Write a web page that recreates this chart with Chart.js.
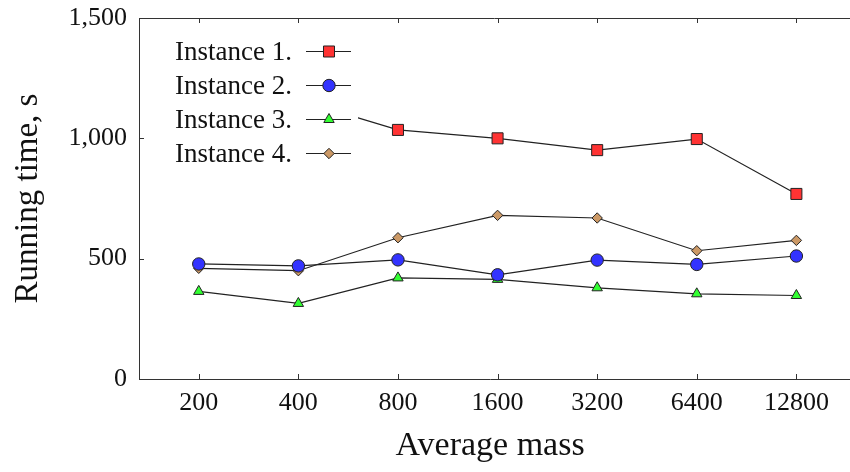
<!DOCTYPE html>
<html>
<head>
<meta charset="utf-8">
<script src="https://cdn.jsdelivr.net/npm/chart.js@4.4.1/dist/chart.umd.min.js"></script>
<style>
    html, body { margin: 0; padding: 0; background: #fff; overflow: hidden; }
    #wrap { width: 850px; height: 472px; position: relative; }
</style>
</head>
<body>
<div id="wrap"><canvas id="chart"></canvas></div>
<script>
// values
const masses = ['200', '400', '800', '1600', '3200', '6400', '12800'];
const instance1 = [1180, 1160, 1035, 1000, 951, 997, 769];
const instance2 = [478, 470, 495, 433, 494, 476, 511];
const instance3 = [364, 314, 420, 414, 379, 354, 347];
const instance4 = [460, 450, 587, 680, 669, 533, 576];
const yTicks = [0, 500, 1000, 1500];

const serif = "'Liberation Serif', 'DejaVu Serif', serif";
const ink = '#222';

const toPoints = (arr) => arr.map((v, i) => ({ x: i, y: v }));

const makeSet = (label, values, style, fill, radius) => ({
    label: label,
    data: toPoints(values),
    borderColor: ink,
    borderWidth: 1.2,
    pointStyle: style,
    pointRadius: radius,
    pointHoverRadius: radius,
    pointBackgroundColor: fill,
    pointBorderColor: ink,
    pointBorderWidth: 1,
    tension: 0
});

// frame on top + inward tick marks, like the pgfplots axis
const framePlugin = {
    id: 'frame',
    beforeDatasetsDraw(chart) {
        const { ctx, chartArea: a, scales } = chart;
        ctx.save();
        ctx.strokeStyle = '#333';
        ctx.lineWidth = 1;
        ctx.beginPath();
        ctx.moveTo(a.left, a.top + 0.5);
        ctx.lineTo(chart.width, a.top + 0.5);
        ctx.moveTo(a.right, a.bottom + 0.5);
        ctx.lineTo(chart.width, a.bottom + 0.5);
        scales.x.ticks.forEach(t => {
            const px = Math.round(scales.x.getPixelForValue(t.value)) + 0.5;
            ctx.moveTo(px, a.bottom);
            ctx.lineTo(px, a.bottom - 5);
            ctx.moveTo(px, a.top);
            ctx.lineTo(px, a.top + 5);
        });
        scales.y.ticks.forEach(t => {
            const py = Math.round(scales.y.getPixelForValue(t.value)) + 0.5;
            ctx.moveTo(a.left, py);
            ctx.lineTo(a.left + 5, py);
        });
        ctx.stroke();
        ctx.restore();
    }
};

// legend drawn over the lines with a white box, text first then sample
const legendPlugin = {
    id: 'boxLegend',
    afterDatasetsDraw(chart) {
        const { ctx } = chart;
        ctx.save();
        ctx.fillStyle = '#fff';
        ctx.fillRect(160, 29, 198, 144);
        ctx.font = '27px ' + serif;
        ctx.textBaseline = 'alphabetic';
        ctx.textAlign = 'left';
        chart.data.datasets.forEach((ds, i) => {
            const cy = 51.5 + i * 34;
            ctx.fillStyle = '#111';
            ctx.fillText(ds.label, 175, cy + 8.5);
            ctx.strokeStyle = ink;
            ctx.lineWidth = 1.2;
            ctx.beginPath();
            ctx.moveTo(306, cy);
            ctx.lineTo(351, cy);
            ctx.stroke();
            ctx.fillStyle = ds.pointBackgroundColor;
            ctx.lineWidth = 1;
            Chart.helpers.drawPoint(ctx, {
                pointStyle: ds.pointStyle,
                radius: ds.pointRadius,
                rotation: 0,
                borderWidth: 1
            }, 329, cy);
        });
        ctx.restore();
    }
};

const ctx = document.getElementById('chart').getContext('2d');
window.massChart = new Chart(ctx, {
    type: 'line',
    data: {
        datasets: [
            makeSet('Instance 1.', instance1, 'rect', '#ff3333', 7.8),
            makeSet('Instance 2.', instance2, 'circle', '#3333ff', 6.2),
            makeSet('Instance 3.', instance3, 'triangle', '#33ff33', 6),
            makeSet('Instance 4.', instance4, 'rectRot', '#cc9966', 5.2)
        ]
    },
    options: {
        responsive: true,
        maintainAspectRatio: false,
        animation: false,
        layout: { padding: { top: 18, left: 0, right: 0, bottom: 0 } },
        plugins: {
            legend: { display: false },
            tooltip: { enabled: false }
        },
        scales: {
            x: {
                type: 'linear',
                min: -0.6,
                max: 6.45,
                afterBuildTicks: (scale) => {
                    scale.ticks = masses.map((m, i) => ({ value: i }));
                },
                afterFit: (scale) => {
                    scale.height = 93;
                    scale.paddingLeft = 0;
                    scale.paddingRight = 0;
                },
                grid: { display: false, drawTicks: false },
                border: { display: true, color: '#333', width: 1 },
                ticks: {
                    autoSkip: false,
                    maxRotation: 0,
                    padding: 9,
                    color: '#111',
                    font: { family: serif, size: 26 },
                    callback: (v) => masses[v]
                },
                title: {
                    display: true,
                    text: 'Average mass',
                    color: '#111',
                    font: { family: serif, size: 34 },
                    padding: { top: 0, bottom: 6 }
                }
            },
            y: {
                min: 0,
                max: 1500,
                afterBuildTicks: (scale) => {
                    scale.ticks = yTicks.map(v => ({ value: v }));
                },
                afterFit: (scale) => {
                    scale.width = 139;
                    scale.paddingTop = 0;
                    scale.paddingBottom = 0;
                },
                grid: { display: false, drawTicks: false },
                border: { display: true, color: '#333', width: 1 },
                ticks: {
                    padding: 12,
                    color: '#111',
                    font: { family: serif, size: 26 },
                    callback: (v) => v.toLocaleString('en-US')
                },
                title: {
                    display: true,
                    text: 'Running time, s',
                    color: '#111',
                    font: { family: serif, size: 33 },
                    padding: { top: 9, bottom: 0 }
                }
            }
        }
    },
    plugins: [framePlugin, legendPlugin]
});
</script>
</body>
</html>
